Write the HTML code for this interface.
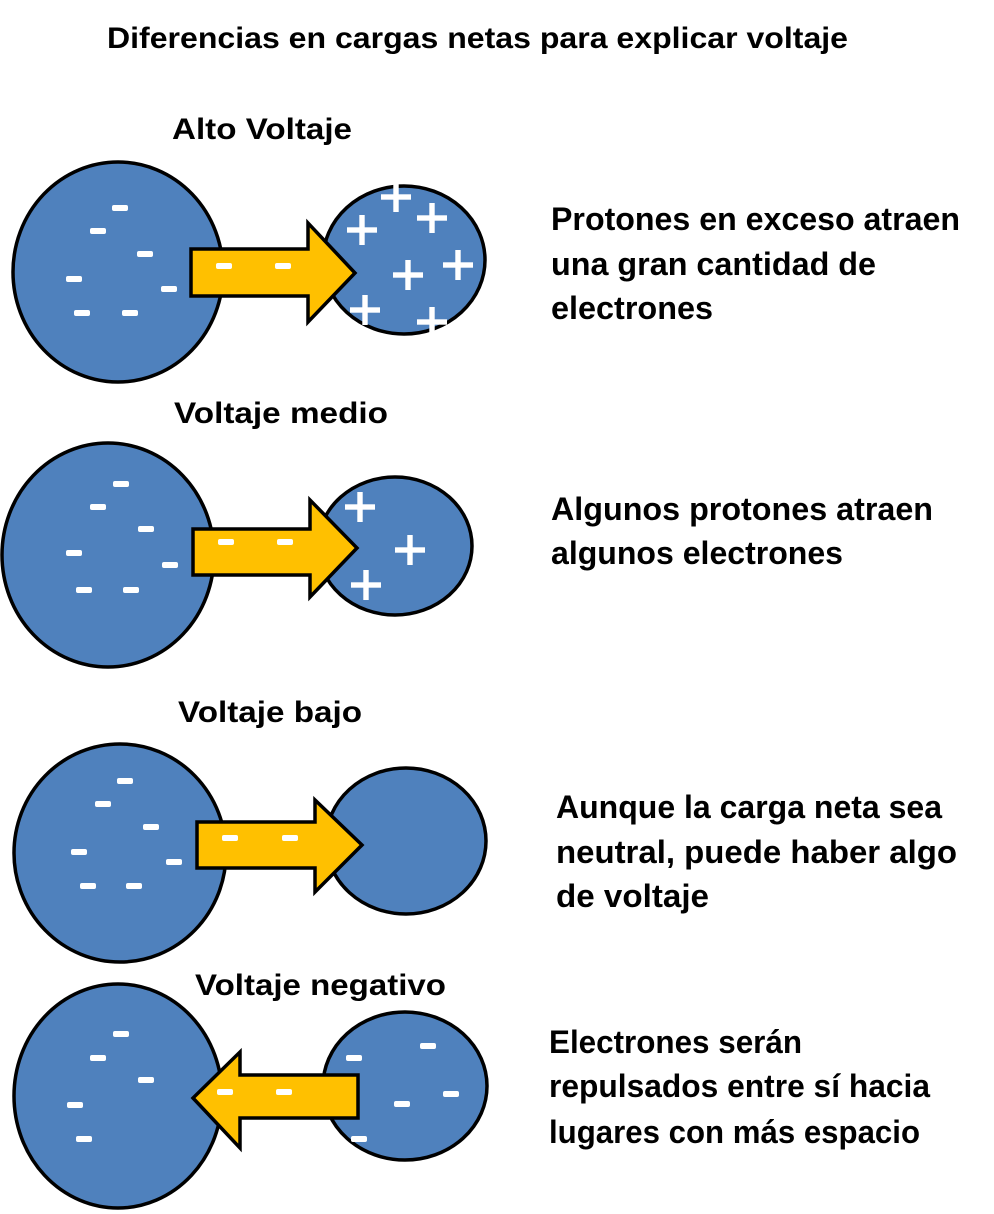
<!DOCTYPE html>
<html><head><meta charset="utf-8"><style>
html,body{margin:0;padding:0;background:#fff;}
svg{display:block}
text{font-family:"Liberation Sans",sans-serif;font-weight:bold;fill:#000;}
</style></head><body>
<svg width="994" height="1214" viewBox="0 0 994 1214" xmlns="http://www.w3.org/2000/svg">
<defs>
<g id="m"><rect x="-8" y="-3" width="16" height="6" rx="2" fill="#fff"/></g>
<g id="p"><rect x="-15" y="-2.7" width="30" height="5.4" fill="#fff"/><rect x="-2.7" y="-15" width="5.4" height="30" fill="#fff"/></g>
</defs>
<g stroke="#000" stroke-width="3.5" fill="#4f81bd">
<ellipse cx="118" cy="272" rx="105" ry="110"/>
<ellipse cx="404" cy="260" rx="81" ry="74"/>
<ellipse cx="108" cy="555" rx="106" ry="112"/>
<ellipse cx="395" cy="546" rx="77" ry="69"/>
<ellipse cx="120" cy="853" rx="106" ry="109"/>
<ellipse cx="406" cy="841" rx="80" ry="73"/>
<ellipse cx="118" cy="1096" rx="104" ry="112"/>
<ellipse cx="405" cy="1086" rx="82" ry="74"/>
</g>
<g stroke="#000" stroke-width="3.5" fill="#ffc000" stroke-linejoin="miter">
<polygon points="191,249 308,249 308,223 355,273 308,322 308,296 191,296"/>
<polygon points="193,529 310,529 310,500 357,548 310,597 310,575 193,575"/>
<polygon points="197,822 315,822 315,800 362,845 315,892 315,868 197,868"/>
<polygon points="358,1075 240,1075 240,1052 193,1098 240,1148 240,1118 358,1118"/>
</g>
<use href="#m" x="120" y="208"/><use href="#m" x="98" y="231"/><use href="#m" x="145" y="254"/><use href="#m" x="74" y="279"/><use href="#m" x="169" y="289"/><use href="#m" x="82" y="313"/><use href="#m" x="130" y="313"/>
<use href="#m" x="224" y="266"/><use href="#m" x="283" y="266"/>
<use href="#m" x="121" y="484"/><use href="#m" x="98" y="507"/><use href="#m" x="146" y="529"/><use href="#m" x="74" y="553"/><use href="#m" x="170" y="565"/><use href="#m" x="84" y="590"/><use href="#m" x="131" y="590"/>
<use href="#m" x="226" y="542"/><use href="#m" x="285" y="542"/>
<use href="#m" x="125" y="781"/><use href="#m" x="103" y="804"/><use href="#m" x="151" y="827"/><use href="#m" x="79" y="852"/><use href="#m" x="174" y="862"/><use href="#m" x="88" y="886"/><use href="#m" x="134" y="886"/>
<use href="#m" x="230" y="838"/><use href="#m" x="290" y="838"/>
<use href="#m" x="121" y="1034"/><use href="#m" x="98" y="1058"/><use href="#m" x="146" y="1080"/><use href="#m" x="75" y="1105"/><use href="#m" x="84" y="1139"/>
<use href="#m" x="225" y="1092"/><use href="#m" x="284" y="1092"/>
<use href="#m" x="354" y="1058"/><use href="#m" x="428" y="1046"/><use href="#m" x="402" y="1104"/><use href="#m" x="451" y="1094"/><use href="#m" x="359" y="1139"/>
<use href="#p" x="396" y="197"/><use href="#p" x="432" y="218"/><use href="#p" x="362" y="230"/><use href="#p" x="408" y="275"/><use href="#p" x="458" y="265"/><use href="#p" x="365" y="310"/><use href="#p" x="432" y="322"/>
<use href="#p" x="360" y="507"/><use href="#p" x="410" y="550"/><use href="#p" x="366" y="585"/>
<g font-size="30">
<text x="107" y="48" textLength="741" lengthAdjust="spacingAndGlyphs">Diferencias en cargas netas para explicar voltaje</text>
<text x="172" y="139" textLength="180" lengthAdjust="spacingAndGlyphs">Alto Voltaje</text>
<text x="174" y="423" textLength="214" lengthAdjust="spacingAndGlyphs">Voltaje medio</text>
<text x="178" y="722" textLength="184" lengthAdjust="spacingAndGlyphs">Voltaje bajo</text>
<text x="195" y="995" textLength="251" lengthAdjust="spacingAndGlyphs">Voltaje negativo</text>
</g>
<g font-size="32">
<text x="551" y="230" textLength="409" lengthAdjust="spacingAndGlyphs">Protones en exceso atraen</text>
<text x="551" y="275" textLength="325" lengthAdjust="spacingAndGlyphs">una gran cantidad de</text>
<text x="551" y="319" textLength="162" lengthAdjust="spacingAndGlyphs">electrones</text>
<text x="551" y="520" textLength="382" lengthAdjust="spacingAndGlyphs">Algunos protones atraen</text>
<text x="551" y="564" textLength="292" lengthAdjust="spacingAndGlyphs">algunos electrones</text>
<text x="556" y="818" textLength="386" lengthAdjust="spacingAndGlyphs">Aunque la carga neta sea</text>
<text x="556" y="863" textLength="401" lengthAdjust="spacingAndGlyphs">neutral, puede haber algo</text>
<text x="556" y="907" textLength="153" lengthAdjust="spacingAndGlyphs">de voltaje</text>
<text x="549" y="1053" textLength="253" lengthAdjust="spacingAndGlyphs">Electrones serán</text>
<text x="549" y="1097" textLength="381" lengthAdjust="spacingAndGlyphs">repulsados entre sí hacia</text>
<text x="549" y="1143" textLength="371" lengthAdjust="spacingAndGlyphs">lugares con más espacio</text>
</g>
</svg>
</body></html>
